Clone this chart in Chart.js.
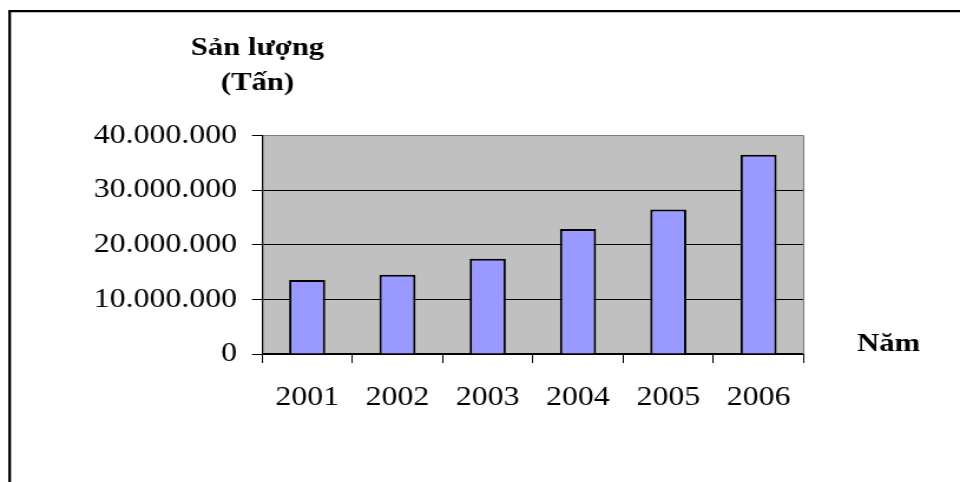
<!DOCTYPE html>
<html lang="vi">
<head>
<meta charset="utf-8">
<title>Sản lượng (Tấn) 2001–2006</title>
<script src="https://cdn.jsdelivr.net/npm/chart.js@4/dist/chart.umd.min.js"></script>
<style>
  html, body { margin: 0; padding: 0; background: #fff; }
  /* The drawing surface is rendered narrower and shown wider, which gives the
     slightly wide lettering of the figure. */
  #chart { display: block; width: 960px; height: 482px; }
</style>
</head>
<body>
<canvas id="chart" width="814" height="482" style="width:960px;height:482px"></canvas>
<script>
// ---- data ----
const years = ['2001', '2002', '2003', '2004', '2005', '2006'];
const outputTonnes = [13550000, 14500000, 17450000, 22900000, 26500000, 36500000];
const yTickValues = [0, 10000000, 20000000, 30000000, 40000000];
const yTickLabels = ['0', '10.000.000', '20.000.000', '30.000.000', '40.000.000'];
const yAxisTitle = ['Sản lượng', '(Tấn)'];
const xAxisTitle = 'Năm';

// ---- geometry (canvas units) ----
const CANVAS_W = 814;
const SX = 960 / CANVAS_W;            // horizontal display stretch
const SERIF = "'Liberation Serif', 'Times New Roman', Times, serif";

// grey plot area, its grey right edge and the black frame around the figure
const decorPlugin = {
  id: 'decor',
  beforeDraw(chart) {
    const { ctx, chartArea: a } = chart;
    ctx.save();
    ctx.fillStyle = '#c0c0c0';
    ctx.fillRect(a.left, a.top, a.right - a.left, a.bottom - a.top);
    ctx.restore();
  },
  beforeDatasetsDraw(chart) {
    const { ctx, chartArea: a } = chart;
    ctx.save();
    ctx.strokeStyle = '#808080';
    ctx.lineWidth = 1.2;
    ctx.beginPath();
    ctx.moveTo(a.right, a.top);
    ctx.lineTo(a.right, a.bottom);
    ctx.stroke();
    ctx.restore();
  },
  afterDraw(chart) {
    const { ctx, width, height } = chart;
    ctx.save();
    ctx.strokeStyle = '#000';
    // top edge of the frame
    ctx.lineWidth = 2.3;
    ctx.beginPath();
    ctx.moveTo(7, 11.2);
    ctx.lineTo(width, 11.2);
    ctx.stroke();
    // left edge of the frame
    ctx.lineWidth = 2.3;
    ctx.beginPath();
    ctx.moveTo(8.2, 10);
    ctx.lineTo(8.2, height);
    ctx.stroke();

    // axis titles
    ctx.fillStyle = '#000';
    ctx.font = 'bold 26px ' + SERIF;
    ctx.textAlign = 'center';
    ctx.textBaseline = 'alphabetic';
    ctx.fillText(yAxisTitle[0], 218.3, 55);
    ctx.fillText(yAxisTitle[1], 218.3, 90);
    ctx.fillText(xAxisTitle, 753.5, 351);
    ctx.restore();
  }
};

new Chart(document.getElementById('chart'), {
  type: 'bar',
  data: {
    labels: years,
    datasets: [{
      data: outputTonnes,
      backgroundColor: '#9999ff',
      borderColor: '#000000',
      borderWidth: 2,
      barPercentage: 0.4,
      categoryPercentage: 1.0
    }]
  },
  options: {
    responsive: false,
    devicePixelRatio: 1,
    animation: false,
    layout: {
      padding: { left: 0, top: 135.7, right: CANVAS_W - 803.7 / SX, bottom: 0 }
    },
    plugins: {
      legend: { display: false },
      tooltip: { enabled: false },
      title: { display: false }
    },
    scales: {
      x: {
        type: 'category',
        grid: {
          offset: true,
          drawOnChartArea: false,
          drawTicks: true,
          tickLength: 9,
          tickColor: '#000',
          lineWidth: 1
        },
        border: { display: true, color: '#000', width: 1.2 },
        ticks: {
          color: '#000',
          font: { family: SERIF, size: 27 },
          padding: 19,
          maxRotation: 0,
          autoSkip: false
        },
        afterFit(scale) { scale.height = 128; }
      },
      y: {
        min: 0,
        max: 40000000,
        grid: {
          color: (c) => (c.tick && c.tick.value === 40000000 ? '#808080' : '#000'),
          lineWidth: 1,
          drawTicks: true,
          tickLength: 10 / SX,
          tickColor: '#000'
        },
        border: { display: true, color: '#000', width: 1.2 },
        ticks: {
          stepSize: 10000000,
          color: '#000',
          font: { family: SERIF, size: 27 },
          padding: 12.6,
          callback: (v) => {
            const i = yTickValues.indexOf(v);
            return i >= 0 ? yTickLabels[i] : '';
          }
        },
        afterFit(scale) { scale.width = 262 / SX; }
      }
    }
  },
  plugins: [decorPlugin]
});
</script>
</body>
</html>
